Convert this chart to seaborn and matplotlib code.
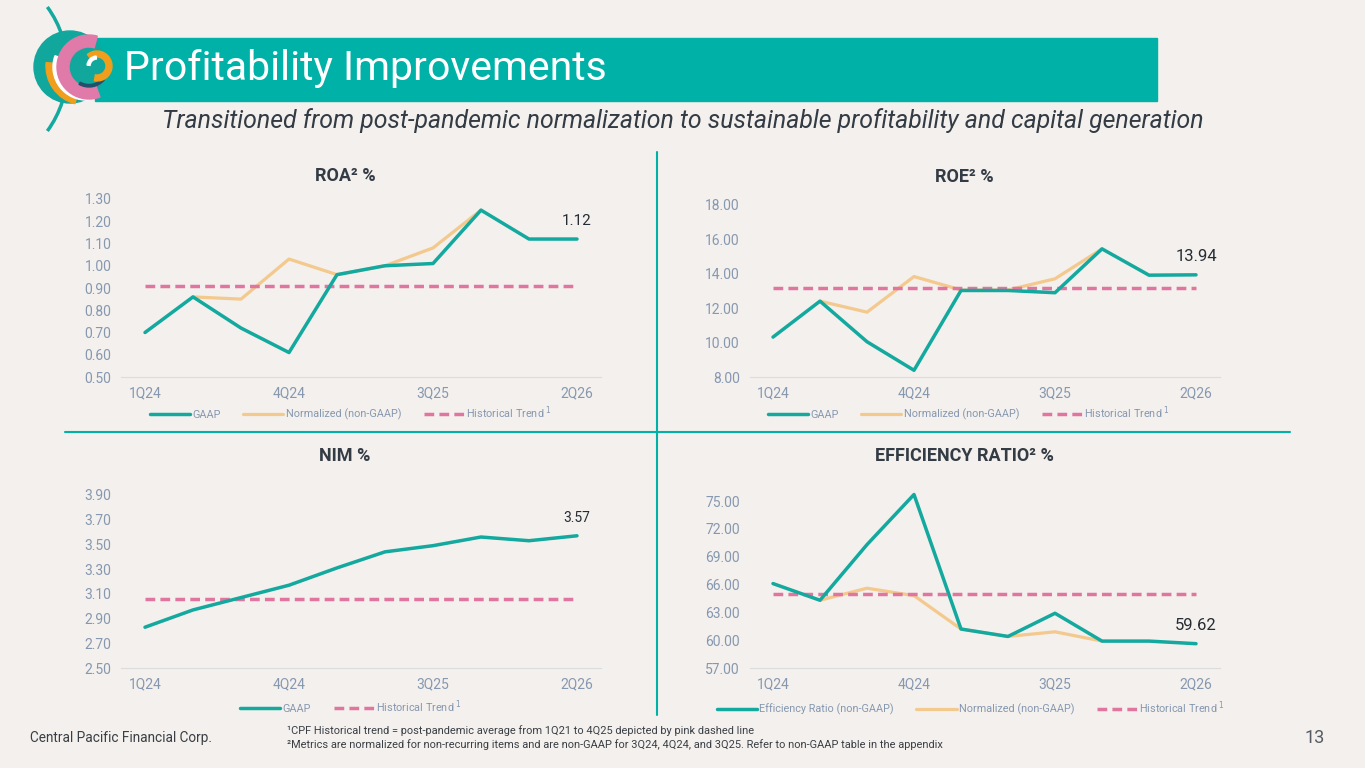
import numpy as np
import seaborn as sns
import matplotlib.pyplot as plt
from matplotlib.patches import Rectangle, Circle, Wedge, Arc

quarters = ['1Q24', '2Q24', '3Q24', '4Q24', '1Q25', '2Q25', '3Q25', '4Q25', '1Q26', '2Q26']
shown_ticks = ['1Q24', '4Q24', '3Q25', '2Q26']

roa_gaap = [0.70, 0.86, 0.72, 0.61, 0.96, 1.00, 1.01, 1.25, 1.12, 1.12]
roa_norm = [np.nan, 0.86, 0.85, 1.03, 0.96, 1.00, 1.08, 1.25, np.nan, np.nan]
roa_hist = 0.91

roe_gaap = [10.32, 12.41, 10.05, 8.39, 13.03, 13.03, 12.90, 15.45, 13.92, 13.94]
roe_norm = [np.nan, 12.41, 11.77, 13.84, 13.06, 13.06, 13.71, 15.45, np.nan, np.nan]
roe_hist = 13.15

nim_gaap = [2.83, 2.97, 3.07, 3.17, 3.31, 3.44, 3.49, 3.56, 3.53, 3.57]
nim_hist = 3.06

eff_gaap = [66.10, 64.30, 70.30, 75.70, 61.20, 60.40, 62.90, 59.90, 59.90, 59.62]
eff_norm = [np.nan, 64.30, 65.60, 64.80, 61.20, 60.40, 60.90, 59.90, np.nan, np.nan]
eff_hist = 65.00

TEAL = '#14a99e'
BAR = '#00b1a8'
ORANGE = '#f4c98d'
PINK = '#e0769f'
TICK = '#8698b0'
DARK = '#333b44'
BG = '#f3f0ed'

sns.set_theme(style='white')
plt.rcParams['font.family'] = ['Roboto', 'DejaVu Sans']

W, H = 1365, 768
fig = plt.figure(figsize=(W / 100, H / 100), dpi=100, facecolor=BG)

# background layer in pixel coordinates
bg = fig.add_axes([0, 0, 1, 1])
bg.set_xlim(0, W)
bg.set_ylim(H, 0)
bg.axis('off')
bg.add_patch(Rectangle((95, 38), 1062, 63, color=BAR, zorder=1))
# logo
bg.add_patch(Arc((-38, 69), 211, 211, theta1=-36, theta2=36, color=TEAL, lw=2.5, zorder=2))
bg.add_patch(Circle((70, 67), 36, color='#12a79d', zorder=3))
bg.add_patch(Wedge((85, 66), 39, 105, 185, width=9, color='#f09e1c', zorder=4))
bg.add_patch(Wedge((86, 67), 33, 85, 200, width=10, color='white', zorder=5))
bg.add_patch(Wedge((89, 67), 32, 70, 285, width=12, color='#e07aa8', zorder=6))
bg.add_patch(Wedge((89, 67), 20, 40, 120, width=2.5, color='#21506a', zorder=7))
bg.add_patch(Wedge((97, 66), 15, -130, 100, width=6, color='#f09e1c', zorder=7))
bg.add_patch(Wedge((97, 66), 10, 185, 265, width=3, color='white', zorder=7))
bg.text(124, 69, 'Profitability Improvements', color='white', fontsize=29.5,
        va='center', ha='left', zorder=8)
bg.text(162, 121, 'Transitioned from post-pandemic normalization to sustainable profitability and capital generation',
        color=DARK, fontsize=17.9, style='italic', va='center', ha='left')
bg.plot([657, 657], [152, 715], color=BAR, lw=1.5)
bg.plot([65, 1290], [432, 432], color=BAR, lw=1.5)
bg.text(30, 738, 'Central Pacific Financial Corp.', color='#3a3f45', fontsize=9.8, va='center')
bg.text(287, 731, '¹CPF Historical trend = post-pandemic average from 1Q21 to 4Q25 depicted by pink dashed line',
        color='#3a3f45', fontsize=7.9, va='center')
bg.text(287, 745, '²Metrics are normalized for non-recurring items and are non-GAAP for 3Q24, 4Q24, and 3Q25. Refer to non-GAAP table in the appendix',
        color='#3a3f45', fontsize=7.9, va='center')
bg.text(1325, 738, '13', color='#555b62', fontsize=13, va='center', ha='right')


def panel(left, right, top, bottom, ylim, step, fmt):
    ax = fig.add_axes([left / W, 1 - bottom / H, (right - left) / W, (bottom - top) / H])
    ax.set_facecolor('none')
    ax.set_xlim(-0.5, 9.5)
    ax.set_ylim(*ylim)
    ax.set_yticks(np.arange(ylim[0], ylim[1] + step / 2, step))
    ax.set_yticklabels([fmt.format(t) for t in ax.get_yticks()])
    ax.set_xticks([quarters.index(q) for q in shown_ticks])
    ax.set_xticklabels(shown_ticks)
    ax.tick_params(axis='both', colors=TICK, labelsize=10, length=0)
    ax.tick_params(axis='y', pad=7)
    ax.tick_params(axis='x', pad=7)
    for s in ['top', 'right', 'left']:
        ax.spines[s].set_visible(False)
    ax.spines['bottom'].set_color('#dcdcdc')
    ax.spines['bottom'].set_linewidth(0.8)
    ax.grid(False)
    return ax


def draw(ax, gaap, gaap_label, norm, hist, label_size, legend_xy):
    x = np.arange(len(quarters))
    if norm is not None:
        sns.lineplot(x=x, y=norm, ax=ax, color=ORANGE, linewidth=2.3,
                     label='Normalized (non-GAAP)', clip_on=False)
    sns.lineplot(x=x, y=[hist] * len(quarters), ax=ax, color=PINK, linewidth=2.5,
                 linestyle=(0, (2.8, 1.5)), label='Historical Trend $^1$', clip_on=False)
    sns.lineplot(x=x, y=gaap, ax=ax, color=TEAL, linewidth=2.5, label=gaap_label, clip_on=False)
    ax.annotate(f'{gaap[-1]:.2f}', xy=(x[-1], gaap[-1]), xytext=(0, 8), textcoords='offset points',
                ha='center', va='bottom', fontsize=label_size, color='#262c33')
    handles, labels = ax.get_legend_handles_labels()
    order = [labels.index(gaap_label)]
    if norm is not None:
        order.append(labels.index('Normalized (non-GAAP)'))
    order.append(labels.index('Historical Trend $^1$'))
    ax.legend([handles[i] for i in order], [labels[i] for i in order],
              loc='center', bbox_to_anchor=(legend_xy[0] / W, 1 - legend_xy[1] / H),
              bbox_transform=fig.transFigure, ncol=len(order), frameon=False,
              fontsize=7.8, handlelength=3.7, handletextpad=0.2, columnspacing=2.1,
              labelcolor=TICK)


ax1 = panel(121, 601, 199, 377, (0.5, 1.3), 0.1, '{:.2f}')
draw(ax1, roa_gaap, 'GAAP', roa_norm, roa_hist, 11, (351, 413))
ax2 = panel(749.5, 1219.5, 205, 377, (8, 18), 2, '{:.2f}')
draw(ax2, roe_gaap, 'GAAP', roe_norm, roe_hist, 12, (969, 413))
ax3 = panel(121, 601, 495, 668, (2.5, 3.9), 0.2, '{:.2f}')
draw(ax3, nim_gaap, 'GAAP', None, nim_hist, 10, (351, 707))
ax4 = panel(749.5, 1219.5, 501, 668, (57, 75), 3, '{:.2f}')
draw(ax4, eff_gaap, 'Efficiency Ratio (non-GAAP)', eff_norm, eff_hist, 12, (971, 708))

for x, y, t in [(345, 176, 'ROA² %'), (964, 177, 'ROE² %'),
                (345, 456, 'NIM %'), (964, 456, 'EFFICIENCY RATIO² %')]:
    fig.text(x / W, 1 - y / H, t, ha='center', va='center', fontsize=13,
             weight='semibold', color=DARK)

fig.savefig('out.png', dpi=100, facecolor=BG)
